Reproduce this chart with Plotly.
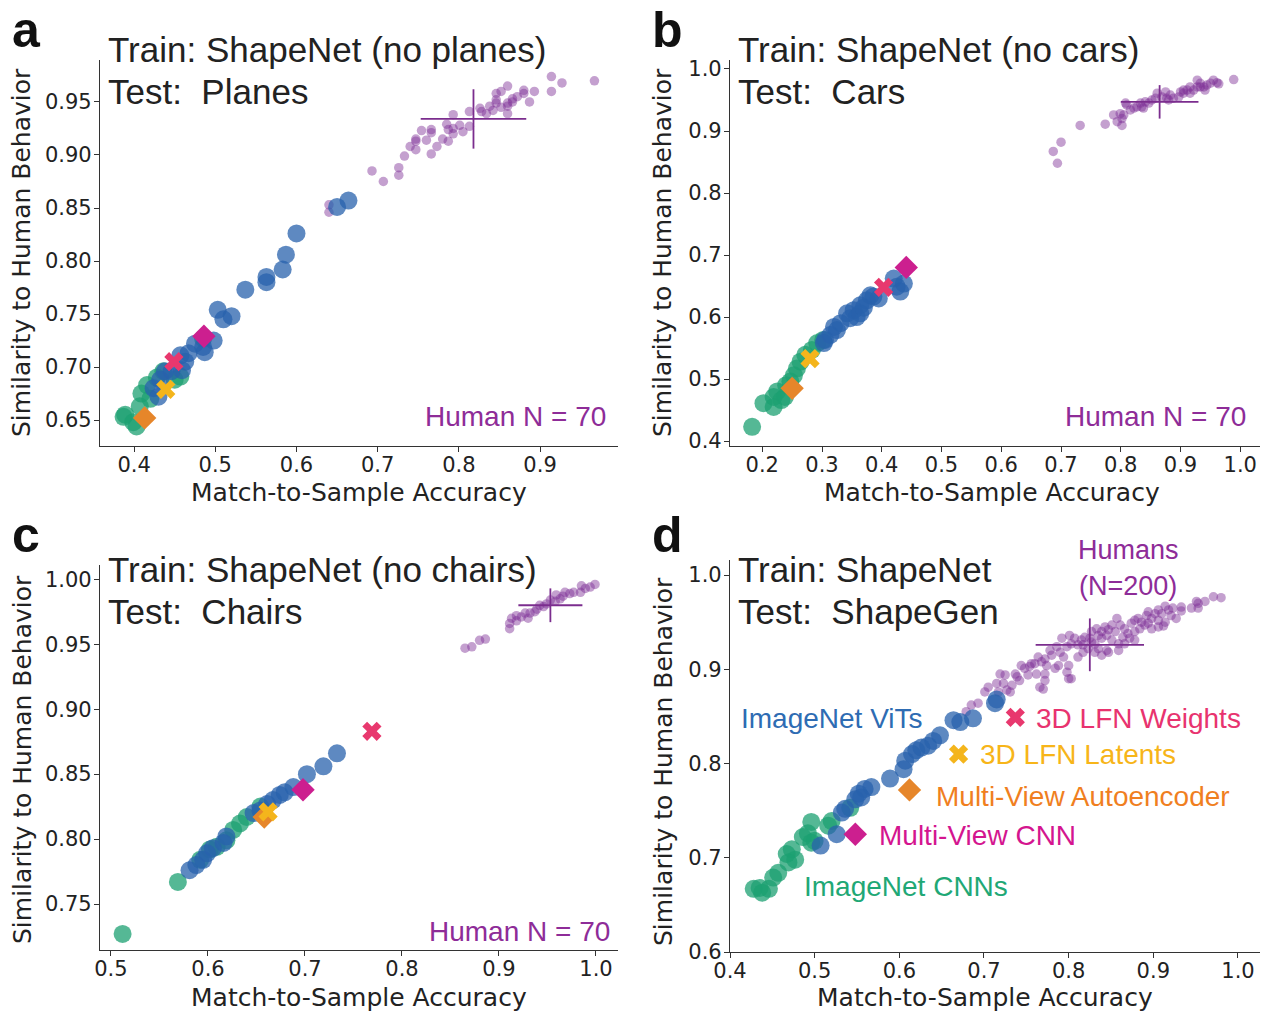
import plotly.graph_objects as go

W, H = 1270, 1011

# ---------------- DATA ----------------
# Panel a : Train ShapeNet (no planes) / Test Planes
a_hum_x = [0.967,0.914,0.927,0.914,0.893,0.880,0.880,0.887,0.860,0.852,0.846,0.866,0.866,0.846,0.846,0.860,0.860,0.860,0.842,0.834,0.828,0.826,0.813,0.793,0.813,0.805,0.793,0.793,0.787,0.785,0.780,0.787,0.766,0.766,0.773,0.766,0.760,0.754,0.747,0.747,0.740,0.747,0.733,0.726,0.726,0.707,0.693,0.640,0.640,0.872,0.852,0.838,0.801]
a_hum_y = [0.970,0.974,0.968,0.960,0.960,0.961,0.958,0.950,0.965,0.960,0.958,0.953,0.950,0.952,0.949,0.949,0.946,0.939,0.942,0.939,0.941,0.944,0.941,0.938,0.927,0.922,0.925,0.920,0.924,0.929,0.915,0.913,0.924,0.921,0.908,0.901,0.914,0.923,0.915,0.913,0.908,0.905,0.899,0.888,0.881,0.875,0.885,0.853,0.846,0.955,0.945,0.946,0.928]
a_cnn_x = [0.457,0.436,0.428,0.416,0.409,0.407,0.389,0.387,0.403,0.399,0.485,0.450,0.420]
a_cnn_y = [0.691,0.696,0.690,0.683,0.675,0.663,0.655,0.653,0.644,0.648,0.727,0.688,0.670]
a_vit_x = [0.664,0.650,0.600,0.587,0.583,0.563,0.563,0.537,0.503,0.520,0.510,0.498,0.485,0.487,0.475,0.467,0.463,0.457,0.459,0.446,0.438,0.432,0.424,0.430]
a_vit_y = [0.857,0.851,0.826,0.806,0.792,0.785,0.780,0.773,0.754,0.748,0.745,0.725,0.719,0.714,0.722,0.713,0.705,0.711,0.697,0.696,0.696,0.688,0.680,0.672]
a_special = {"mvae": (0.413, 0.652), "mvcnn": (0.486, 0.729), "lfn_lat": (0.439, 0.679), "lfn_w": (0.449, 0.705)}
a_mean = (0.818, 0.934)
a_sd = (0.065, 0.028)

# Panel b : Train ShapeNet (no cars) / Test Cars
b_hum_x = [0.989,0.964,0.961,0.955,0.944,0.941,0.939,0.933,0.928,0.928,0.922,0.916,0.916,0.911,0.905,0.900,0.897,0.888,0.883,0.877,0.875,0.869,0.861,0.858,0.852,0.847,0.841,0.835,0.833,0.827,0.822,0.816,0.810,0.808,0.805,0.802,0.799,0.794,0.788,0.802,0.774,0.732,0.700,0.687,0.694,0.950,0.933,0.905,0.880,0.838]
b_hum_y = [0.983,0.976,0.978,0.982,0.974,0.966,0.971,0.977,0.982,0.971,0.966,0.971,0.961,0.966,0.961,0.963,0.955,0.953,0.958,0.953,0.963,0.955,0.961,0.953,0.950,0.945,0.947,0.939,0.945,0.939,0.937,0.934,0.942,0.945,0.926,0.920,0.928,0.915,0.926,0.909,0.911,0.909,0.882,0.867,0.848,0.977,0.971,0.966,0.950,0.937]
b_cnn_x = [0.292,0.283,0.272,0.264,0.258,0.253,0.247,0.225,0.219,0.202,0.219,0.238,0.183,0.302,0.240,0.232]
b_cnn_y = [0.558,0.547,0.539,0.528,0.517,0.506,0.496,0.480,0.471,0.461,0.455,0.471,0.423,0.563,0.490,0.466]
b_vit_x = [0.425,0.437,0.420,0.431,0.386,0.375,0.381,0.364,0.353,0.358,0.347,0.342,0.331,0.325,0.320,0.314,0.305,0.303,0.364,0.395,0.370]
b_vit_y = [0.649,0.654,0.662,0.641,0.633,0.627,0.635,0.619,0.611,0.600,0.598,0.606,0.590,0.579,0.584,0.571,0.563,0.558,0.606,0.630,0.615]
b_special = {"mvae": (0.250, 0.485), "mvcnn": (0.441, 0.680), "lfn_lat": (0.280, 0.533), "lfn_w": (0.403, 0.648)}
b_mean = (0.865, 0.947)
b_sd = (0.065, 0.027)

# Panel c : Train ShapeNet (no chairs) / Test Chairs
c_hum_x = [0.999,0.994,0.989,0.985,0.984,0.977,0.973,0.966,0.963,0.959,0.958,0.949,0.946,0.942,0.939,0.937,0.932,0.927,0.923,0.918,0.918,0.913,0.911,0.911,0.886,0.880,0.872,0.865,0.968,0.953,0.930]
c_hum_y = [0.996,0.994,0.993,0.995,0.990,0.990,0.989,0.987,0.985,0.988,0.983,0.981,0.979,0.980,0.977,0.975,0.974,0.974,0.971,0.972,0.968,0.970,0.966,0.962,0.954,0.953,0.948,0.947,0.990,0.984,0.970]
c_cnn_x = [0.512,0.569,0.640,0.633,0.626,0.619,0.609,0.602,0.592,0.654]
c_cnn_y = [0.727,0.767,0.817,0.812,0.807,0.799,0.794,0.792,0.784,0.825]
c_vit_x = [0.733,0.719,0.702,0.688,0.679,0.674,0.667,0.661,0.654,0.647,0.619,0.616,0.605,0.599,0.595,0.588,0.581]
c_vit_y = [0.866,0.856,0.850,0.840,0.836,0.834,0.830,0.827,0.822,0.820,0.802,0.797,0.793,0.789,0.784,0.780,0.776]
c_special = {"mvae": (0.658, 0.817), "mvcnn": (0.698, 0.838), "lfn_lat": (0.662, 0.821), "lfn_w": (0.769, 0.883)}
c_mean = (0.953, 0.980)
c_sd = (0.033, 0.013)

# Panel d : Train ShapeNet / Test ShapeGen
d_hum_x = [0.980,0.961,0.953,0.953,0.933,0.933,0.923,0.918,0.914,0.906,0.902,0.894,0.892,0.898,0.906,0.914,0.912,0.906,0.894,0.886,0.882,0.878,0.874,0.884,0.878,0.870,0.866,0.861,0.857,0.851,0.847,0.843,0.839,0.835,0.833,0.827,0.825,0.819,0.815,0.811,0.807,0.803,0.801,0.798,0.792,0.790,0.786,0.780,0.778,0.772,0.774,0.768,0.764,0.760,0.756,0.754,0.748,0.744,0.742,0.739,0.737,0.733,0.731,0.727,0.723,0.725,0.719,0.715,0.717,0.752,0.762,0.772,0.784,0.788,0.794,0.800,0.798,0.803,0.772,0.770,0.811,0.817,0.823,0.831,0.839,0.845,0.851,0.859,0.864,0.847,0.835,0.827,0.817,0.831,0.839,0.845,0.855,0.878,0.872,0.866,0.890,0.898,0.921,0.927,0.910,0.693,0.685,0.679,0.701,0.705,0.971,0.951,0.945,0.800,0.766,0.859]
d_hum_y = [0.976,0.972,0.970,0.965,0.966,0.962,0.965,0.963,0.967,0.963,0.959,0.961,0.957,0.954,0.952,0.950,0.946,0.945,0.949,0.950,0.954,0.952,0.949,0.943,0.940,0.938,0.943,0.947,0.954,0.947,0.942,0.945,0.940,0.936,0.943,0.940,0.933,0.934,0.931,0.926,0.933,0.927,0.936,0.924,0.933,0.918,0.924,0.915,0.920,0.911,0.904,0.908,0.913,0.906,0.906,0.903,0.901,0.904,0.888,0.892,0.895,0.883,0.876,0.878,0.885,0.894,0.895,0.885,0.876,0.894,0.895,0.895,0.901,0.904,0.913,0.904,0.897,0.890,0.888,0.879,0.913,0.918,0.922,0.918,0.915,0.920,0.931,0.927,0.934,0.918,0.922,0.929,0.926,0.927,0.933,0.936,0.940,0.931,0.933,0.927,0.947,0.943,0.957,0.954,0.959,0.864,0.862,0.855,0.876,0.881,0.977,0.972,0.965,0.890,0.881,0.920]
d_cnn_x = [0.542,0.520,0.516,0.496,0.492,0.486,0.500,0.496,0.473,0.467,0.477,0.469,0.457,0.451,0.428,0.438,0.446,0.435]
d_cnn_y = [0.753,0.739,0.734,0.738,0.726,0.722,0.718,0.716,0.709,0.704,0.698,0.695,0.684,0.679,0.667,0.663,0.667,0.668]
d_vit_x = [0.715,0.713,0.687,0.672,0.664,0.648,0.640,0.634,0.626,0.620,0.615,0.607,0.605,0.589,0.567,0.559,0.552,0.548,0.555,0.536,0.532,0.526,0.507]
d_vit_y = [0.868,0.864,0.848,0.844,0.846,0.830,0.824,0.819,0.817,0.814,0.810,0.803,0.794,0.784,0.775,0.773,0.768,0.762,0.764,0.752,0.748,0.725,0.713]
d_special = {"mvae": (0.612, 0.772), "mvcnn": (0.548, 0.725), "lfn_lat": (0.670, 0.810), "lfn_w": (0.737, 0.849)}
d_mean = (0.825, 0.926)
d_sd = (0.064, 0.028)

# axis ticks
a_xticks = [0.4, 0.5, 0.6, 0.7, 0.8, 0.9]
a_yticks = [0.65, 0.70, 0.75, 0.80, 0.85, 0.90, 0.95]
b_xticks = [0.2, 0.3, 0.4, 0.5, 0.6, 0.7, 0.8, 0.9, 1.0]
b_yticks = [0.4, 0.5, 0.6, 0.7, 0.8, 0.9, 1.0]
c_xticks = [0.5, 0.6, 0.7, 0.8, 0.9, 1.0]
c_yticks = [0.75, 0.80, 0.85, 0.90, 0.95, 1.00]
d_xticks = [0.4, 0.5, 0.6, 0.7, 0.8, 0.9, 1.0]
d_yticks = [0.6, 0.7, 0.8, 0.9, 1.0]

# ---------------- STYLE ----------------
HUM = "rgba(125,45,148,0.45)"
HUM_LINE = "#7b2d8e"
HUM_TXT = "#8e2c98"
CNN = "rgba(28,160,113,0.75)"
VIT = "rgba(40,98,172,0.75)"
C_LFNW = "#e8386e"
C_LFNL = "#f4b51c"
C_MVAE = "#e6862a"
C_MVCNN = "#cc1f8f"
TICKFONT = dict(family="DejaVu Sans", size=21, color="#222")
TITLEFONT = "Liberation Sans"


def fx(px):
    return px / W


def fy(py):
    return 1 - py / H


panels = [
    dict(k="", hx=a_hum_x, hy=a_hum_y, cx=a_cnn_x, cy=a_cnn_y, vx=a_vit_x, vy=a_vit_y, sp=a_special, m=a_mean, s=a_sd,
         xr=[0.358, 0.996], yr=[0.6255, 0.9896], xt=a_xticks, yt=a_yticks, xf=".1f", yf=".2f",
         dom=(100, 618, 60, 446)),
    dict(k="2", hx=b_hum_x, hy=b_hum_y, cx=b_cnn_x, cy=b_cnn_y, vx=b_vit_x, vy=b_vit_y, sp=b_special, m=b_mean, s=b_sd,
         xr=[0.146, 1.033], yr=[0.392, 1.0145], xt=b_xticks, yt=b_yticks, xf=".1f", yf=".1f",
         dom=(730, 1260, 60, 446)),
    dict(k="3", hx=c_hum_x, hy=c_hum_y, cx=c_cnn_x, cy=c_cnn_y, vx=c_vit_x, vy=c_vit_y, sp=c_special, m=c_mean, s=c_sd,
         xr=[0.4887, 1.0227], yr=[0.7146, 1.011], xt=c_xticks, yt=c_yticks, xf=".1f", yf=".2f",
         dom=(100, 618, 565, 950)),
    dict(k="4", hx=d_hum_x, hy=d_hum_y, cx=d_cnn_x, cy=d_cnn_y, vx=d_vit_x, vy=d_vit_y, sp=d_special, m=d_mean, s=d_sd,
         xr=[0.4, 1.026], yr=[0.6, 1.016], xt=d_xticks, yt=d_yticks, xf=".1f", yf=".1f",
         dom=(730, 1260, 560, 952)),
]

fig = go.Figure()
layout = {}
for p in panels:
    xa, ya = "x" + p["k"], "y" + p["k"]
    fig.add_trace(go.Scatter(x=p["hx"], y=p["hy"], mode="markers", xaxis=xa, yaxis=ya,
                             marker=dict(size=9.5, color=HUM, line=dict(width=0)), showlegend=False))
    mx, my = p["m"]
    sx, sy = p["s"]
    fig.add_trace(go.Scatter(x=[mx - sx, mx + sx, None, mx, mx], y=[my, my, None, my - sy, my + sy],
                             mode="lines", xaxis=xa, yaxis=ya, line=dict(color=HUM_LINE, width=1.8),
                             showlegend=False))
    fig.add_trace(go.Scatter(x=p["cx"], y=p["cy"], mode="markers", xaxis=xa, yaxis=ya,
                             marker=dict(size=18, color=CNN, line=dict(width=0)), showlegend=False))
    fig.add_trace(go.Scatter(x=p["vx"], y=p["vy"], mode="markers", xaxis=xa, yaxis=ya,
                             marker=dict(size=18, color=VIT, line=dict(width=0)), showlegend=False))
    sp = p["sp"]
    for key, sym, col, size in [("mvae", "diamond", C_MVAE, 18), ("mvcnn", "diamond", C_MVCNN, 18),
                                ("lfn_lat", "x", C_LFNL, 17), ("lfn_w", "x", C_LFNW, 17)]:
        fig.add_trace(go.Scatter(x=[sp[key][0]], y=[sp[key][1]], mode="markers", xaxis=xa, yaxis=ya,
                                 marker=dict(size=size, symbol=sym, color=col, line=dict(width=0)),
                                 showlegend=False))
    x0, x1, y0, y1 = p["dom"]
    common = dict(showline=True, linecolor="#333", linewidth=1.2, ticks="outside", ticklen=5,
                  tickcolor="#333", tickwidth=1.2, showgrid=False, zeroline=False, tickfont=TICKFONT,
                  automargin=False)
    layout["xaxis" + p["k"]] = dict(domain=[fx(x0), fx(x1)], range=p["xr"], anchor=ya, tickvals=p["xt"],
                                    tickformat=p["xf"], ticklabelstandoff=-5, **common)
    layout["yaxis" + p["k"]] = dict(domain=[fy(y1), fy(y0)], range=p["yr"], anchor=xa, tickvals=p["yt"],
                                    tickformat=p["yf"], ticklabelstandoff=-2, **common)

ann = []


def text(px, py, s, size, color="#222", xanchor="left", family=TITLEFONT, angle=0, bold=False):
    if bold:
        s = "<b>" + s + "</b>"
    ann.append(dict(x=fx(px), y=fy(py), xref="paper", yref="paper", text=s, showarrow=False,
                    xanchor=xanchor, yanchor="middle", textangle=angle,
                    font=dict(family=family, size=size, color=color)))


text(10, 30, "a", 50, "#111", bold=True)
text(650, 30, "b", 50, "#111", bold=True)
text(10, 535, "c", 50, "#111", bold=True)
text(650, 535, "d", 50, "#111", bold=True)

NB = "\u00a0"
text(106, 50, "Train: ShapeNet (no planes)", 35)
text(106, 92, "Test:" + NB + " Planes", 35)
text(736, 50, "Train: ShapeNet (no cars)", 35)
text(736, 92, "Test:" + NB + " Cars", 35)
text(106, 569, "Train: ShapeNet (no chairs)", 35)
text(106, 611, "Test:" + NB + " Chairs", 35)
text(736, 569, "Train: ShapeNet", 35)
text(736, 611, "Test:" + NB + " ShapeGen", 35)

text(608, 417, "Human N = 70", 28, HUM_TXT, xanchor="right")
text(1248, 417, "Human N = 70", 28, HUM_TXT, xanchor="right")
text(612, 931, "Human N = 70", 28, HUM_TXT, xanchor="right")
text(1128, 550, "Humans", 27, HUM_TXT, xanchor="center")
text(1128, 586, "(N=200)", 27, HUM_TXT, xanchor="center")

text(925, 718, "ImageNet ViTs", 28, "#2e6cb3", xanchor="right")
text(1034, 718, "3D LFN Weights", 28, "#e8336f")
text(978, 754, "3D LFN Latents", 28, "#f7b519")
text(934, 796, "Multi-View Autoencoder", 28, "#f07f1f")
text(877, 835, "Multi-View CNN", 28, "#d4158f")
text(802, 886, "ImageNet CNNs", 28, "#1fa876")

AX = "DejaVu Sans"
for cx_, cy_ in [(359, 493), (992, 493), (359, 997), (985, 997)]:
    text(cx_, cy_, "Match-to-Sample Accuracy", 25, "#222", xanchor="center", family=AX)
for cx_, cy_ in [(22, 253), (663, 253), (22, 760), (663, 762)]:
    text(cx_, cy_, "Similarity to Human Behavior", 25, "#222", xanchor="center", family=AX, angle=-90)

fig.update_layout(template="none", width=W, height=H, margin=dict(l=0, r=0, t=0, b=0, autoexpand=False),
                  paper_bgcolor="white", plot_bgcolor="white", annotations=ann, showlegend=False, **layout)

fig.write_html("out.html", config={"displayModeBar": False},
               post_script="document.body.style.margin='0';document.body.style.overflow='hidden';")
